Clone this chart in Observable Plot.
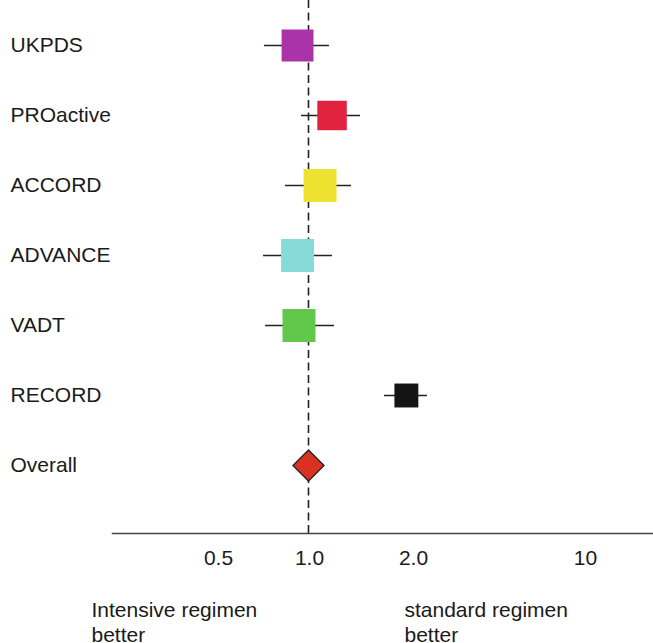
<!DOCTYPE html>
<html>
<head>
<meta charset="utf-8">
<script src="https://cdn.jsdelivr.net/npm/d3@7"></script>
<script src="https://cdn.jsdelivr.net/npm/@observablehq/plot@0.6"></script>
<style>
  html, body { margin: 0; padding: 0; background: #fff; }
  #chart svg { display: block; }
</style>
</head>
<body>
<div id="chart"></div>
<script>
// ---- data ----
const studies = ["UKPDS", "PROactive", "ACCORD", "ADVANCE", "VADT", "RECORD"];
const estimates = [0.92, 1.17, 1.08, 0.92, 0.93, 1.92];
const lower = [0.715, 0.948, 0.839, 0.71, 0.721, 1.66];
const upper = [1.15, 1.414, 1.332, 1.173, 1.189, 2.30];
const weights = [17.8, 15.2, 19.0, 19.0, 19.0, 10.0];
const studyColors = ["#aa33aa", "#e2233f", "#ece22f", "#88dad8", "#62c84b", "#141414"];
const overallLabel = "Overall";
const overallEstimate = 1.0;
const tickValues = [0.5, 1, 2, 10];
const tickLabels = ["0.5", "1.0", "2.0", "10"];
const leftCaption = "Intensive regimen\nbetter";
const rightCaption = "standard regimen\nbetter";

const rows = studies.map((s, i) => ({
  study: s, est: estimates[i], lo: lower[i], hi: upper[i], w: weights[i]
}));
const overall = [{study: overallLabel, est: overallEstimate}];
const allRows = [...studies, overallLabel];
const ticks = tickValues.map((v, i) => ({value: v, label: tickLabels[i]}));

const FONT = "'Liberation Sans', Arial, Helvetica, sans-serif";
const FS = 21;

const chart = Plot.plot({
  width: 653,
  height: 643,
  marginTop: 0,
  marginLeft: 112,
  marginRight: 0,
  marginBottom: 110,
  style: {fontFamily: FONT, fontSize: FS + "px", color: "#1a1a1a", background: "#fff"},
  x: {type: "log", domain: tickValues, range: [217, 308, 412, 584], axis: null},
  y: {type: "point", domain: allRows, range: [44, 466], padding: 0},
  r: {type: "sqrt", domain: [0, 19], range: [0, 18.6]},
  color: {domain: studies, range: studyColors},
  marks: [
    Plot.ruleX([overallEstimate], {stroke: "#222", strokeWidth: 1.6, strokeDasharray: "8,4.5"}),
    Plot.ruleY(rows, {y: "study", x1: "lo", x2: "hi", stroke: "#222", strokeWidth: 1.5}),
    Plot.dot(rows, {x: "est", y: "study", r: "w", symbol: "square", fill: "study", stroke: null}),
    Plot.dot(overall, {x: "est", y: "study", symbol: "square", rotate: 45, r: 12.4,
      fill: "#d93221", stroke: "#222", strokeWidth: 1.3}),
    Plot.axisY({tickSize: 0, tickPadding: 0, textAnchor: "start", dx: -102, label: null,
      fontSize: FS, fill: "#1a1a1a"}),
    Plot.text(ticks, {x: "value", text: "label", frameAnchor: "bottom", lineAnchor: "top",
      dy: 17, dx: 1, fontSize: FS, fill: "#1a1a1a"}),
    Plot.frame({anchor: "bottom", stroke: "#444", strokeWidth: 1.5}),
    Plot.text([leftCaption], {frameAnchor: "bottom-left", textAnchor: "start", lineAnchor: "top",
      dx: -21, dy: 66, lineHeight: 1.18, fontSize: FS, fill: "#1a1a1a"}),
    Plot.text([rightCaption], {frameAnchor: "bottom-left", textAnchor: "start", lineAnchor: "top",
      dx: 292, dy: 66, lineHeight: 1.18, fontSize: FS, fill: "#1a1a1a"})
  ]
});
document.getElementById("chart").appendChild(chart);
</script>
</body>
</html>
